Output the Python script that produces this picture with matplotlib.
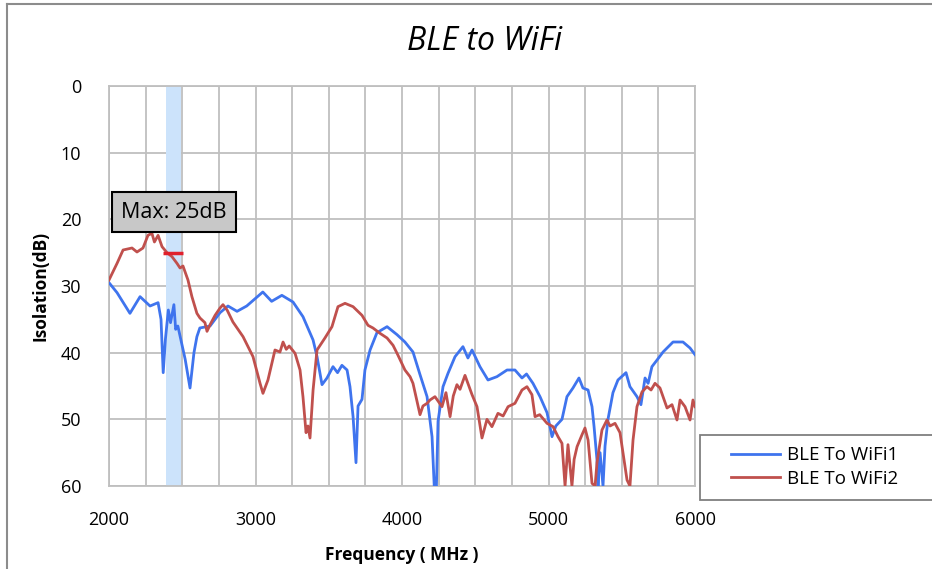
import matplotlib
matplotlib.use("Agg")
import matplotlib.pyplot as plt
from matplotlib.lines import Line2D
from matplotlib.patches import Rectangle

# ---- data ----
f_wifi1 = [2000, 2055, 2143, 2212, 2280, 2335, 2355, 2370, 2385, 2405, 2420, 2443, 2455, 2470, 2485,
           2520, 2553, 2580, 2600, 2620, 2690, 2758, 2812, 2874, 2940, 3050, 3110, 3180, 3256,
           3324, 3393, 3420, 3454, 3488, 3529, 3560, 3590, 3625, 3645, 3666, 3686, 3700, 3727,
           3747, 3782, 3829, 3898, 3966, 4020, 4075, 4123, 4171, 4205, 4220, 4235, 4246, 4280,
           4314, 4362, 4416, 4450, 4478, 4532, 4587, 4648, 4717, 4771, 4819, 4850, 4894, 4942,
           4990, 5024, 5050, 5092, 5126, 5167, 5208, 5235, 5270, 5297, 5311, 5331, 5338, 5352,
           5372, 5386, 5406, 5440, 5474, 5529, 5556, 5604, 5631, 5659, 5680, 5706, 5741, 5782,
           5850, 5918, 5966, 6000]
iso_wifi1 = [29.5, 31.0, 34.1, 31.6, 33.0, 32.5, 35.0, 43.0, 38.0, 33.6, 35.5, 32.8, 36.5, 36.0, 37.5,
             41.0, 45.3, 40.0, 37.6, 36.3, 36.0, 34.0, 33.0, 33.8, 33.0, 30.9, 32.3, 31.4, 32.4,
             34.6, 38.1, 40.6, 44.8, 43.8, 42.1, 43.0, 41.9, 42.6, 45.1, 49.6, 56.5, 48.0, 47.0,
             42.6, 39.6, 37.0, 36.1, 37.3, 38.4, 39.9, 43.3, 46.6, 52.6, 60.0, 60.0, 50.3, 45.1,
             43.1, 40.6, 39.1, 40.8, 39.6, 42.1, 44.1, 43.6, 42.6, 42.6, 43.8, 43.2, 44.6, 46.6,
             49.0, 52.6, 51.0, 50.0, 46.6, 45.3, 43.8, 45.3, 45.6, 48.1, 51.1, 56.1, 60.0, 55.0,
             60.0, 54.0, 50.0, 46.0, 44.1, 43.0, 45.1, 46.6, 47.8, 43.8, 44.6, 42.1, 41.1, 39.9,
             38.4, 38.4, 39.3, 40.3]

f_wifi2 = [2000, 2055, 2096, 2157, 2191, 2232, 2266, 2293, 2310, 2335, 2362, 2396, 2430, 2464, 2485,
           2505, 2539, 2566, 2600, 2621, 2655, 2669, 2690, 2724, 2758, 2778, 2806, 2846, 2915,
           2983, 3031, 3051, 3085, 3133, 3167, 3188, 3210, 3230, 3270, 3304, 3324, 3345, 3358,
           3372, 3393, 3420, 3474, 3522, 3563, 3611, 3666, 3727, 3768, 3802, 3850, 3898, 3939,
           3973, 4020, 4055, 4075, 4123, 4143, 4171, 4191, 4225, 4273, 4300, 4328, 4350, 4375,
           4396, 4430, 4478, 4512, 4546, 4580, 4614, 4655, 4690, 4724, 4771, 4819, 4853, 4887,
           4908, 4940, 4990, 5031, 5065, 5092, 5113, 5133, 5160, 5175, 5195, 5229, 5249, 5270,
           5297, 5318, 5331, 5365, 5399, 5420, 5454, 5488, 5509, 5536, 5556, 5577, 5604, 5638,
           5672, 5700, 5727, 5761, 5809, 5843, 5877, 5898, 5932, 5966, 5986, 6000]
iso_wifi2 = [29.1, 26.6, 24.6, 24.3, 24.9, 24.3, 22.4, 22.1, 23.4, 22.4, 24.1, 25.0, 25.6, 26.6, 27.3,
             27.0, 29.1, 31.6, 34.1, 34.8, 35.5, 36.8, 35.8, 34.4, 33.3, 32.8, 33.6, 35.4, 37.6,
             40.6, 44.6, 46.1, 44.1, 39.6, 39.9, 38.4, 39.5, 39.0, 40.1, 42.6, 46.6, 52.0, 51.0,
             52.8, 45.6, 39.6, 37.8, 36.1, 33.1, 32.6, 33.1, 34.4, 35.9, 36.3, 37.1, 37.8, 38.9,
             40.4, 42.6, 43.6, 44.6, 49.3, 48.0, 47.6, 47.1, 46.6, 48.1, 46.0, 49.6, 46.5, 44.8,
             45.5, 43.4, 46.3, 48.1, 52.8, 50.0, 51.1, 49.1, 49.5, 48.1, 47.6, 45.6, 45.1, 46.3,
             49.6, 49.3, 50.6, 51.1, 52.6, 53.6, 60.0, 53.8, 60.0, 56.0, 54.1, 52.3, 51.3, 53.1,
             59.6, 60.0, 56.5, 51.6, 50.1, 51.0, 50.6, 52.0, 55.1, 59.1, 60.0, 53.1, 48.1, 45.9,
             45.1, 45.6, 44.6, 45.3, 48.3, 47.8, 50.1, 47.1, 48.1, 50.1, 47.1, 48.1]

x_ticks = [2000, 3000, 4000, 5000, 6000]
y_ticks = [0, 10, 20, 30, 40, 50, 60]
band = [2390, 2490]
max_value = 25
max_label = "Max: 25dB"
series_names = ["BLE To WiFi1", "BLE To WiFi2"]

# ---- figure ----
plt.rcParams['font.family'] = ['Open Sans', 'DejaVu Sans']
fig = plt.figure(figsize=(9.32, 5.69), dpi=100)
ax = fig.add_axes([109/932, 1-486/569, (695-109)/932, (486-86)/569])

grid_c = '#BFBFBF'
blue = '#3F74EE'
red = '#C0504D'

ax.set_xlim(2000, 6000)
ax.set_ylim(60, 0)
ax.set_xticks(x_ticks)
ax.set_xticks(range(2000, 6001, 250), minor=True)
ax.set_yticks(y_ticks)
ax.grid(True, which='both', axis='x', color=grid_c, lw=1.3)
ax.grid(True, which='major', axis='y', color=grid_c, lw=1.3)
ax.set_axisbelow(True)
for s in ax.spines.values():
    s.set_color(grid_c)
    s.set_linewidth(1.3)
ax.tick_params(which='both', length=0)
ax.tick_params(axis='y', pad=20, labelsize=13)
ax.tick_params(axis='x', pad=18, labelsize=13)

ax.axvspan(band[0], band[1], color='#CCE3FB', zorder=1, lw=0)

ax.plot(f_wifi1, iso_wifi1, color=blue, lw=2.0, zorder=3, clip_on=True)
ax.plot(f_wifi2, iso_wifi2, color=red, lw=2.0, zorder=3, clip_on=True)

ax.hlines(max_value, band[0] - 20, band[1] + 15, color='#E0202C', lw=2.5, zorder=4)

ax.text(2444, 18.9, max_label, ha='center', va='center', fontsize=15.5, zorder=6,
        clip_on=False,
        bbox=dict(boxstyle='square,pad=0.45', fc='#C8C8C8', ec='black', lw=1.5))

ax.set_xlabel('Frequency ( MHz )', fontsize=12.5, fontweight='bold', labelpad=12)
ax.set_ylabel('Isolation(dB)', fontsize=12.5, fontweight='bold', labelpad=8)

fig.text(485/932, 1-42/569, 'BLE to WiFi', ha='center', va='center',
         fontsize=23, style='italic')

# chart-area border (left & top)
fig.add_artist(Line2D([7/932, 7/932], [0, 1-4/569], transform=fig.transFigure,
                      color='#8C8C8C', lw=1.5))
fig.add_artist(Line2D([7/932, 1], [1-4/569, 1-4/569], transform=fig.transFigure,
                      color='#8C8C8C', lw=1.5))

# legend box
fig.add_artist(Rectangle((700/932, 1-500/569), 260/932, 65/569, transform=fig.transFigure,
                         fc='white', ec='#7F7F7F', lw=1.3))
handles = [Line2D([], [], color=blue, lw=2.0), Line2D([], [], color=red, lw=2.0)]
leg = fig.legend(handles, series_names, loc='center left',
                 bbox_to_anchor=(714/932, 1-467/569), fontsize=13.5,
                 frameon=False, handlelength=2.6, handletextpad=0.4,
                 labelspacing=0.3)

fig.savefig('out.png', dpi=100)
